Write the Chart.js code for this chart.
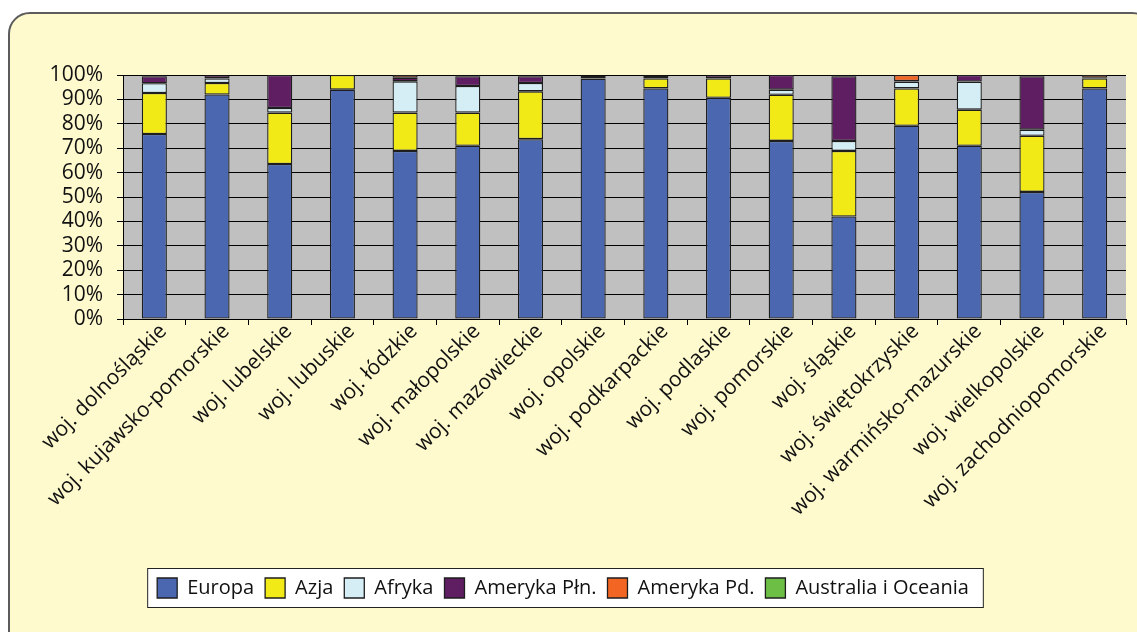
<!DOCTYPE html>
<html>
<head>
<meta charset="utf-8">
<script src="https://cdn.jsdelivr.net/npm/chart.js@4/dist/chart.umd.min.js"></script>
<style>
  html, body { margin: 0; padding: 0; background: #fff; overflow: hidden; }
  #ramka {
    position: absolute; left: 8px; top: 12px; width: 1142px; height: 650px;
    background: #FFF9CE; border: 2px solid #5c5c5c; border-radius: 22px;
  }
  #wrap { position: absolute; left: 0; top: 0; width: 1137px; height: 632px; }
</style>
</head>
<body>
<div id="ramka"></div>
<div id="wrap"><canvas id="kontynentyChart"></canvas></div>
<script>
// Województwa
const kategorie = [
    'woj. dolnośląskie', 'woj. kujawsko-pomorskie', 'woj. lubelskie', 'woj. lubuskie',
    'woj. łódzkie', 'woj. małopolskie', 'woj. mazowieckie', 'woj. opolskie',
    'woj. podkarpackie', 'woj. podlaskie', 'woj. pomorskie', 'woj. śląskie',
    'woj. świętokrzyskie', 'woj. warmińsko-mazurskie', 'woj. wielkopolskie', 'woj. zachodniopomorskie'
];

// Udział kontynentów (%)
const europa     = [75.8, 92.0, 63.5, 94.0, 68.9, 71.0, 73.7, 98.5, 94.5, 90.7, 73.0, 42.0, 79.2, 71.0, 52.1, 94.5];
const azja       = [16.8, 4.7, 21.1, 6.0, 15.7, 13.6, 19.6, 0, 4.1, 7.9, 18.9, 26.9, 15.3, 14.8, 23.0, 4.1];
const afryka     = [4.0, 1.9, 1.9, 0, 12.8, 10.9, 3.4, 0.2, 1.1, 0, 2.1, 4.1, 2.8, 11.5, 2.5, 0];
const amerykaPln = [2.9, 1.3, 13.5, 0, 1.5, 4.0, 2.8, 0.9, 0.3, 1.3, 6.0, 26.5, 0.2, 2.7, 21.9, 0.3];
const amerykaPd  = [0.3, 0.1, 0, 0, 1.1, 0.3, 0.3, 0.2, 0, 0.1, 0, 0.3, 2.5, 0, 0.3, 1.1];
const australia  = [0.2, 0, 0, 0, 0, 0.2, 0.2, 0.2, 0, 0, 0, 0.2, 0, 0, 0.2, 0];

const seria = (label, data, kolor) => ({
    label: label,
    data: data.map(v => v === 0 ? null : v),
    backgroundColor: kolor,
    borderColor: '#1e1e1e',
    borderWidth: 1.3,
    borderSkipped: false,
    barPercentage: 0.4,
    categoryPercentage: 1.0
});

// Tło obszaru wykresu i ramka legendy
const tloPlugin = {
    id: 'tlo',
    beforeDraw(chart) {
        const ctx = chart.ctx;
        const a = chart.chartArea;
        ctx.save();
        ctx.fillStyle = '#C0C0C0';
        ctx.fillRect(a.left, a.top, a.right - a.left, a.bottom - a.top);
        const boxes = chart.legend.legendHitBoxes;
        if (boxes && boxes.length) {
            const l = Math.min(...boxes.map(b => b.left)) - 10;
            const r = Math.max(...boxes.map(b => b.left + b.width)) + 14;
            const t = Math.min(...boxes.map(b => b.top)) - 10;
            const btm = Math.max(...boxes.map(b => b.top + b.height)) + 9;
            ctx.fillStyle = '#ffffff';
            ctx.fillRect(l, t, r - l, btm - t);
            ctx.strokeStyle = '#222';
            ctx.lineWidth = 1;
            ctx.strokeRect(l + 0.5, t + 0.5, r - l, btm - t);
        }
        ctx.restore();
    }
};

const config = {
    type: 'bar',
    data: {
        labels: kategorie,
        datasets: [
            seria('Europa', europa, '#4A67B0'),
            seria('Azja', azja, '#F2EA17'),
            seria('Afryka', afryka, '#D5EEF5'),
            seria('Ameryka Płn.', amerykaPln, '#5F1E61'),
            seria('Ameryka Pd.', amerykaPd, '#F26522'),
            seria('Australia i Oceania', australia, '#6DBE45')
        ]
    },
    options: {
        responsive: true,
        maintainAspectRatio: false,
        animation: false,
        layout: { padding: { top: 75, right: 11, bottom: 24, left: 0 } },
        plugins: {
            legend: {
                position: 'bottom',
                labels: {
                    boxWidth: 20,
                    boxHeight: 20,
                    padding: 11,
                    color: '#111',
                    font: { family: 'Open Sans', size: 20 }
                }
            },
            tooltip: { enabled: false }
        },
        scales: {
            x: {
                stacked: true,
                grid: { drawOnChartArea: false, drawTicks: true, tickLength: 6, color: '#000', offset: true },
                border: { color: '#000', width: 1 },
                ticks: {
                    autoSkip: false,
                    maxRotation: 45,
                    minRotation: 45,
                    padding: -6,
                    labelOffset: 9,
                    color: '#111',
                    font: { family: 'Open Sans', size: 21 }
                },
                afterFit(scale) { scale.height = 248; }
            },
            y: {
                stacked: true,
                min: 0,
                max: 100,
                grid: { color: '#000', tickLength: 6, drawTicks: true },
                border: { color: '#000', width: 1 },
                ticks: {
                    stepSize: 10,
                    autoSkip: false,
                    padding: 14,
                    color: '#111',
                    font: { family: 'Open Sans', size: 21 },
                    callback: v => v + '%'
                },
                afterFit(scale) { scale.width = 123; }
            }
        }
    },
    plugins: [tloPlugin]
};

const ctx = document.getElementById('kontynentyChart').getContext('2d');
new Chart(ctx, config);
</script>
</body>
</html>
